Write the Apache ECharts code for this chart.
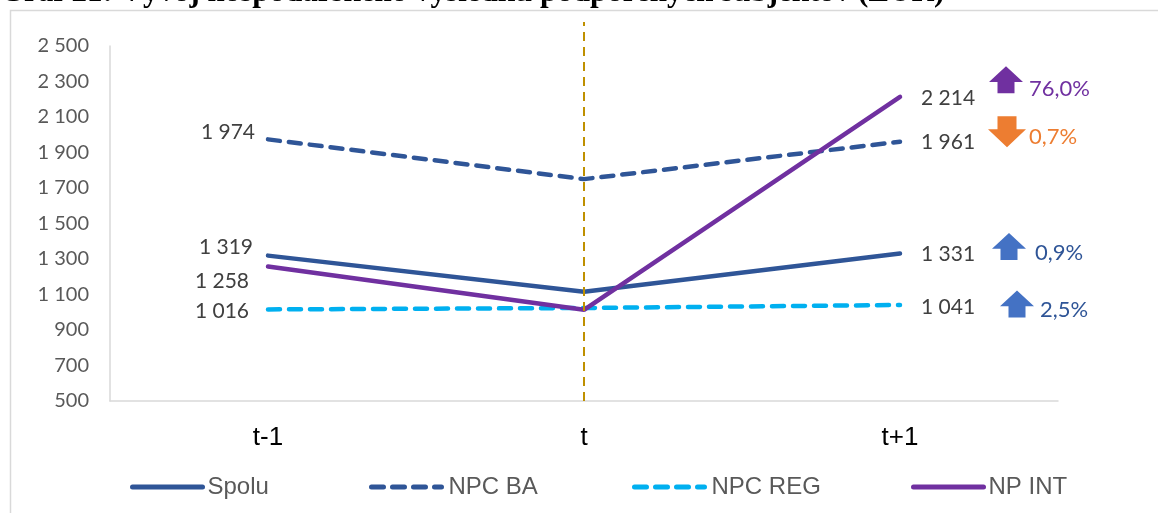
<!DOCTYPE html>
<html>
<head>
<meta charset="utf-8">
<script src="https://cdn.jsdelivr.net/npm/echarts@6/dist/echarts.min.js"></script>
<style>
  html, body { margin: 0; padding: 0; background: #fff; }
  #chart { width: 1158px; height: 513px; }
</style>
</head>
<body>
<div id="chart"></div>
<script>
// Periods and results (EUR) for the supported organisations
const categories = ['t-1', 't', 't+1'];
const spolu  = [1319, 1115, 1331];
const npcBA  = [1974, 1750, 1961];
const npcREG = [1016, 1024, 1041];
const npINT  = [1258, 1014, 2214];
const seriesNames = ['Spolu', 'NPC BA', 'NPC REG', 'NP INT'];
const yTicks = { min: 500, max: 2500, step: 200 };

const NUM_FONT = 'Lato, "Noto Sans", sans-serif';
const TEXT_FONT = '"Liberation Sans", Arial, sans-serif';

function fmtThousands(v) {
  return String(Math.round(v)).replace(/\B(?=(\d{3})+(?!\d))/g, ' ');
}

// change between first and last period, written with decimal comma
function changeText(vals) {
  const pct = (vals[vals.length - 1] / vals[0] - 1) * 100;
  return { text: Math.abs(pct).toFixed(1).replace('.', ',') + '%', up: pct >= 0 };
}

const ARROW_UP = 'path://M50,0 L100,58 L75,58 L75,100 L25,100 L25,58 L0,58 Z';
const ARROW_DOWN = 'path://M25,0 L75,0 L75,42 L100,42 L50,100 L0,42 L25,42 Z';

// end-point label placement per series
const labelPlacement = {
  'Spolu':   { first: [0, -8], last: [0, 1], firstDist: 14 },
  'NPC BA':  { first: [0, -7], last: [0, 1], firstDist: 12 },
  'NPC REG': { first: [0, 2],  last: [0, 2], firstDist: 18 },
  'NP INT':  { first: [0, 15], last: [0, 1], firstDist: 18 }
};
// arrow badge placement next to the last point
const badgePlacement = {
  'Spolu':   { offset: [109, -7],  size: [34, 27], labelOffset: [4, 6],  textColor: '#2F5597', arrowColor: '#4472C4' },
  'NPC BA':  { offset: [107, -10], size: [38, 31], labelOffset: [-2, 5], textColor: '#ED7D31', arrowColor: '#ED7D31' },
  'NPC REG': { offset: [117, -1],  size: [34, 27], labelOffset: [1, 6],  textColor: '#2F5597', arrowColor: '#4472C4' },
  'NP INT':  { offset: [106, -17], size: [34, 27], labelOffset: [1, 9],  textColor: '#7030A0', arrowColor: '#7030A0' }
};
// left edge of each legend entry (legend boxes carry 5px padding)
const legendLeft = { 'Spolu': 125, 'NPC BA': 364, 'NPC REG': 627, 'NP INT': 906 };
const legendTextGap = { 'Spolu': 0, 'NPC BA': 2, 'NPC REG': 2, 'NP INT': 0 };

function buildData(name, vals) {
  const p = labelPlacement[name];
  const last = vals.length - 1;
  return vals.map((v, i) => {
    if (i === 0) {
      return { value: v, label: { show: true, position: 'left', distance: p.firstDist, offset: p.first } };
    }
    if (i === last) {
      return { value: v, label: { show: true, position: 'right', distance: 20, offset: p.last } };
    }
    return { value: v };
  });
}

function buildBadge(name, vals) {
  const b = badgePlacement[name];
  const c = changeText(vals);
  const last = vals.length - 1;
  return {
    silent: true,
    animation: false,
    data: [{
      coord: [categories[last], vals[last]],
      symbol: c.up ? ARROW_UP : ARROW_DOWN,
      symbolSize: b.size,
      symbolOffset: b.offset,
      itemStyle: { color: b.arrowColor },
      label: {
        show: true,
        position: 'right',
        distance: 5,
        offset: b.labelOffset,
        formatter: c.text,
        color: b.textColor,
        fontFamily: NUM_FONT,
        fontSize: 22
      }
    }]
  };
}

function lineSeries(name, vals, color, dashed) {
  return {
    name: name,
    type: 'line',
    xAxisIndex: 0,
    yAxisIndex: 0,
    data: buildData(name, vals),
    symbol: 'circle',
    symbolSize: 2,
    showSymbol: true,
    smooth: false,
    lineStyle: { color: color, width: 4.5, type: dashed ? [12, 9] : 'solid', cap: 'round' },
    itemStyle: { color: color },
    label: { show: false, color: '#404040', fontFamily: NUM_FONT, fontSize: 21, formatter: p => fmtThousands(p.value) },
    markPoint: buildBadge(name, vals),
    z: 3
  };
}

function legendFor(name) {
  return {
    data: [{ name: name, textStyle: { padding: [0, 0, 0, legendTextGap[name]] } }],
    left: legendLeft[name],
    top: 470,
    itemWidth: 70,
    itemHeight: 14,
    itemStyle: { opacity: 0 },
    lineStyle: { width: 5 },
    textStyle: { color: '#595959', fontSize: 24, fontFamily: TEXT_FONT }
  };
}

const chart = echarts.init(document.getElementById('chart'), null, { renderer: 'canvas' });

const gridBox = { left: 110, width: 948, bottom: 112 };

chart.setOption({
  animation: false,
  backgroundColor: '#fff',
  graphic: [
    {
      type: 'rect',
      shape: { x: 10.5, y: 10.5, width: 1170, height: 520 },
      style: { fill: 'none', stroke: '#D9D9D9', lineWidth: 1.5 },
      silent: true, z: 0
    },
    {
      type: 'text',
      x: 0, y: 8,
      style: {
        text: 'Graf 21: Vývoj hospodárskeho výsledku podporených subjektov (EUR)',
        font: 'bold 31px "Liberation Serif", serif',
        fill: '#000',
        verticalAlign: 'bottom'
      },
      silent: true, z: 10
    }
  ],
  legend: seriesNames.map(legendFor),
  grid: [
    Object.assign({ top: 46 }, gridBox),
    Object.assign({ top: 22 }, gridBox)
  ],
  xAxis: [
    {
      type: 'category',
      gridIndex: 0,
      data: categories,
      boundaryGap: true,
      axisLine: { lineStyle: { color: '#D9D9D9', width: 1.5 } },
      axisTick: { show: false },
      axisLabel: { margin: 24, color: '#000', fontSize: 26, fontFamily: TEXT_FONT }
    },
    {
      type: 'category',
      gridIndex: 1,
      data: categories,
      boundaryGap: true,
      show: false
    }
  ],
  yAxis: [
    {
      type: 'value',
      gridIndex: 0,
      min: yTicks.min,
      max: yTicks.max,
      interval: yTicks.step,
      axisLine: { show: true, lineStyle: { color: '#D9D9D9', width: 1.5 } },
      axisTick: { show: false },
      splitLine: { show: false },
      axisLabel: { margin: 21, color: '#595959', fontSize: 20, fontFamily: NUM_FONT, formatter: fmtThousands }
    },
    { type: 'value', gridIndex: 1, min: 0, max: 1, show: false }
  ],
  series: [
    {
      // dividing marker at the current period
      name: 'marker',
      type: 'line',
      xAxisIndex: 1,
      yAxisIndex: 1,
      data: ['-', '-', '-'],
      symbol: 'none',
      silent: true,
      markLine: {
        silent: true,
        symbol: 'none',
        label: { show: false },
        lineStyle: { color: '#BF9000', width: 2, type: [9, 6] },
        data: [{ xAxis: 't' }]
      },
      z: 1
    },
    lineSeries('Spolu', spolu, '#2F5597', false),
    lineSeries('NPC BA', npcBA, '#2F5597', true),
    lineSeries('NPC REG', npcREG, '#00B0F0', true),
    lineSeries('NP INT', npINT, '#7030A0', false)
  ]
});
</script>
</body>
</html>
